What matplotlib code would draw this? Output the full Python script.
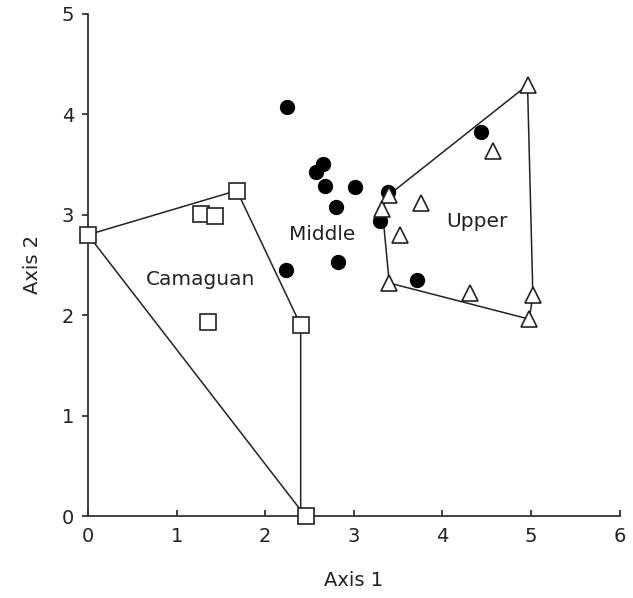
import numpy as np
import matplotlib
matplotlib.use("Agg")
import matplotlib.pyplot as plt

# Camaguan sites (squares)
cam_x = [0.00, 1.68, 1.27, 1.43, 1.35, 2.40, 2.46]
cam_y = [2.80, 3.24, 3.01, 2.99, 1.93, 1.90, 0.00]
# hull outline of Camaguan (meets at the corner of the bottom square)
cam_hull_x = [0.00, 1.68, 2.40, 2.40, 0.00]
cam_hull_y = [2.80, 3.24, 1.90, 0.06, 2.80]

# Middle sites (filled circles)
mid_x = [2.25, 2.65, 2.57, 2.68, 3.01, 2.80, 3.30, 3.39, 2.82, 2.24, 4.43, 3.71]
mid_y = [4.07, 3.50, 3.42, 3.29, 3.28, 3.08, 2.94, 3.23, 2.53, 2.45, 3.82, 2.35]

# Upper sites (triangles)
up_x = [4.96, 4.57, 3.40, 3.32, 3.76, 3.52, 3.40, 4.31, 5.02, 4.98]
up_y = [4.29, 3.63, 3.20, 3.06, 3.12, 2.80, 2.32, 2.22, 2.20, 1.96]
up_hull = [2, 0, 8, 9, 6, 3]

group_labels = ["Camaguan", "Middle", "Upper"]
label_x = [1.27, 2.64, 4.39]
label_y = [2.35, 2.80, 2.93]

fig = plt.figure(figsize=(6.33, 5.98), dpi=100)
ax = fig.add_axes([0.139, 0.137, 0.840, 0.840])

ax.plot(cam_hull_x, cam_hull_y, color="#222222", lw=1.1, zorder=2, clip_on=False)
hx = [up_x[i] for i in up_hull] + [up_x[up_hull[0]]]
hy = [up_y[i] for i in up_hull] + [up_y[up_hull[0]]]
ax.plot(hx, hy, color="#222222", lw=1.1, zorder=2, clip_on=False)

ax.plot(mid_x, mid_y, "o", ms=10, color="black", zorder=3, clip_on=False)
ax.plot(cam_x, cam_y, "s", ms=12, mfc="white", mec="#222222", mew=1.2, zorder=4, clip_on=False)
ax.plot(up_x, up_y, "^", ms=11, mfc="white", mec="#222222", mew=1.2, zorder=4, clip_on=False)

for t, x, y in zip(group_labels, label_x, label_y):
    ax.text(x, y, t, fontsize=14.5, ha="center", va="center", color="#222222", zorder=5)

ax.set_xlim(0, 6)
ax.set_ylim(0, 5)
ax.set_xticks(range(0, 7))
ax.set_yticks(range(0, 6))
ax.spines["top"].set_visible(False)
ax.spines["right"].set_visible(False)
for s in ["left", "bottom"]:
    ax.spines[s].set_linewidth(1.3)
    ax.spines[s].set_color("#333333")
ax.tick_params(axis="x", direction="in", length=4, width=1.2, labelsize=14, pad=8, colors="#222222")
ax.tick_params(axis="y", direction="out", length=4, width=1.2, labelsize=14, pad=6, colors="#222222")
ax.set_xlabel("Axis 1", fontsize=14, labelpad=18, color="#222222")
ax.set_ylabel("Axis 2", fontsize=14, labelpad=14, color="#222222")

fig.savefig("out.png", dpi=100)
